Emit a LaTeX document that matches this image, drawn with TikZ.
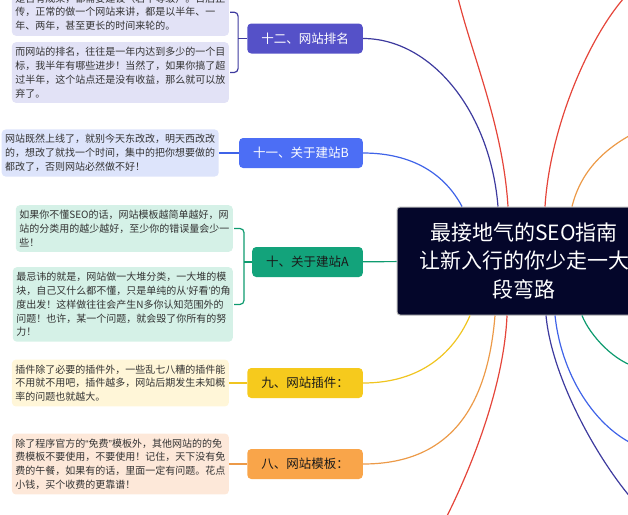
\documentclass[tikz,border=0pt]{standalone}
\usepackage{fontspec}
\setmainfont{Noto Sans CJK SC}
\newfontfamily\quotefont{Liberation Sans}
\newcommand{\narrowq}[1]{{\quotefont #1}}
\usetikzlibrary{positioning}

\definecolor{rootbg}{HTML}{04062A}
\definecolor{indigo}{HTML}{5551C8}
\definecolor{indigoD}{HTML}{3D3A9E}
\definecolor{indigoL}{HTML}{E2E2F6}
\definecolor{blueB}{HTML}{4C6EF5}
\definecolor{blueD}{HTML}{3F63E8}
\definecolor{blueL}{HTML}{DDE4FB}
\definecolor{greenA}{HTML}{13A37B}
\definecolor{greenD}{HTML}{0E9B6F}
\definecolor{greenL}{HTML}{D5F1E7}
\definecolor{yellowC}{HTML}{F6CA1D}
\definecolor{yellowD}{HTML}{F0C520}
\definecolor{yellowL}{HTML}{FFF6D8}
\definecolor{orangeC}{HTML}{F9A54A}
\definecolor{orangeD}{HTML}{EC9A48}
\definecolor{orangeL}{HTML}{FDE8D9}
\definecolor{redE}{HTML}{E5453A}
\definecolor{notetext}{HTML}{333333}
\definecolor{darktext}{HTML}{1A1A1A}

\begin{document}
\begin{tikzpicture}[x=1pt, y=1pt,
    root/.style={draw=gray!55, line width=1pt, fill=rootbg, text=white,
                 rounded corners=3pt, align=center, text width=215pt,
                 inner xsep=19.5pt, minimum height=108pt,
                 font=\fontsize{21}{28.5}\selectfont},
    branch/.style={rounded corners=4pt, minimum height=30pt, inner xsep=14pt,
                   anchor=east, font=\fontsize{12.5}{15}\selectfont},
    note/.style={rounded corners=4pt, align=left, text width=210pt,
                 inner xsep=3.5pt, inner ysep=5pt, text=notetext,
                 font=\fontsize{10}{13.8}\selectfont},
    link/.style={line width=1.2pt}
  ]
  \useasboundingbox (0,0) rectangle (628,-514);
  \clip (0,0) rectangle (628,-514);

  % centre topic
  \node[root] (root) at (524,-261) {最接地气的SEO指南\\让新入行的你少走一大\\段弯路};

  % branches on the left
  \node[branch, fill=indigo, text=white]    (b12) at (363,-38.5) {十二、网站排名};
  \node[branch, fill=blueB, text=white]     (b11) at (363,-153)  {十一、关于建站B};
  \node[branch, fill=greenA, text=darktext] (b10) at (363,-262)  {十、关于建站A};
  \node[branch, fill=yellowC, text=darktext] (b9) at (363,-383)  {九、网站插件：};
  \node[branch, fill=orangeC, text=darktext] (b8) at (363,-464)  {八、网站模板：};

  % notes
  \node[note, fill=indigoL, above left=2.5pt and 18pt of b12.west] (n12a)
    {是否有成果，都需要建设（若干等级）。日后正\\传，正常的做一个网站来讲，都是以半年、一\\年、两年，甚至更长的时间来轮的。};
  \node[note, fill=indigoL, below left=3.5pt and 18pt of b12.west] (n12b)
    {而网站的排名，往往是一年内达到多少的一个目\\标，我半年有哪些进步！当然了，如果你搞了超\\过半年，这个站点还是没有收益，那么就可以放\\弃了。};
  \node[note, fill=blueL, left=20pt of b11] (n11)
    {网站既然上线了，就别今天东改改，明天西改改\\的，想改了就找一个时间，集中的把你想要做的\\都改了，否则网站必然做不好！};
  \node[note, fill=greenL, above left=10pt and 19pt of b10.west] (n10a)
    {如果你不懂SEO的话，网站模板越简单越好，网\\站的分类用的越少越好，至少你的错误量会少一\\些！};
  \node[note, fill=greenL, text width=213pt, below left=5pt and 19pt of b10.west] (n10b)
    {最忌讳的就是，网站做一大堆分类，一大堆的模\\块，自己又什么都不懂，只是单纯的从\narrowq{‘}好看\narrowq{’}的角\\度出发！这样做往往会产生N多你认知范围外的\\问题！也许，某一个问题，就会毁了你所有的努\\力！};
  \node[note, fill=yellowL, left=18pt of b9] (n9)
    {插件除了必要的插件外，一些乱七八糟的插件能\\不用就不用吧，插件越多，网站后期发生未知概\\率的问题也就越大。};
  \node[note, fill=orangeL, left=18pt of b8] (n8)
    {除了程序官方的\narrowq{“}免费\narrowq{”}模板外，其他网站的的免\\费模板不要使用，不要使用！记住，天下没有免\\费的午餐，如果有的话，里面一定有问题。花点\\小钱，买个收费的更靠谱！};

  % notes to branches
  \draw[link, indigoD, rounded corners=4pt] ([xshift=1pt]n12a.east) -| ([xshift=-9pt]b12.west) |- ([xshift=1pt]n12b.east);
  \draw[link, indigoD] ([xshift=-9pt]b12.west) -- (b12.west);
  \draw[link, blueD] (n11) -- (b11);
  \draw[link, greenD, rounded corners=4pt] ([xshift=1pt]n10a.east) -| ([xshift=-8pt]b10.west) |- ([xshift=1pt]n10b.east);
  \draw[link, greenD] ([xshift=-8pt]b10.west) -- (b10.west);
  \draw[link, yellowD] (n9) -- (b9);
  \draw[link, orangeD] (n8) -- (b8);

  % branches to centre
  \draw[link, indigoD] (b12.east) .. controls +(67,0) and +(-8,97) .. ([xshift=-26pt]root.north);
  \draw[link, blueD] (b11.east) .. controls +(50,0) and +(-17,32) .. ([xshift=-62pt]root.north);
  \draw[link, greenD] (b10) -- (root);
  \draw[link, yellowD] (b9.east) .. controls +(60,0) and +(-15,-35) .. ([xshift=-54pt]root.south);
  \draw[link, orangeD] (b8.east) .. controls +(92,0) and +(-7,-85) .. ([xshift=-29pt]root.south);

  % branches leaving the view
  \coordinate (up1) at (458,2);
  \coordinate (up2) at (624,2);
  \coordinate (up3) at (640,-130);
  \coordinate (dn1) at (447,-516);
  \coordinate (dn2) at (640,-508);
  \coordinate (dn3) at (640,-447);
  \coordinate (dn4) at (640,-368);
  \draw[link, redE] ([xshift=-16pt]root.north) .. controls +(-5,80) and +(15,-60) .. (up1);
  \draw[link, redE] ([xshift=21pt]root.north) .. controls +(5,80) and +(-35,-40) .. (up2);
  \draw[link, orangeD] ([xshift=48pt]root.north) .. controls +(10,40) and +(-30,-15) .. (up3);
  \draw[link, redE] ([xshift=-17pt]root.south) .. controls +(-3,-70) and +(25,50) .. (dn1);
  \draw[link, indigoD] ([xshift=22pt]root.south) .. controls +(6,-65) and +(-38,40) .. (dn2);
  \draw[link, blueD] ([xshift=31pt]root.south) .. controls +(7,-65) and +(-40,15) .. (dn3);
  \draw[link, greenD] ([xshift=58pt]root.south) .. controls +(8,-20) and +(-25,5) .. (dn4);
\end{tikzpicture}
\end{document}
